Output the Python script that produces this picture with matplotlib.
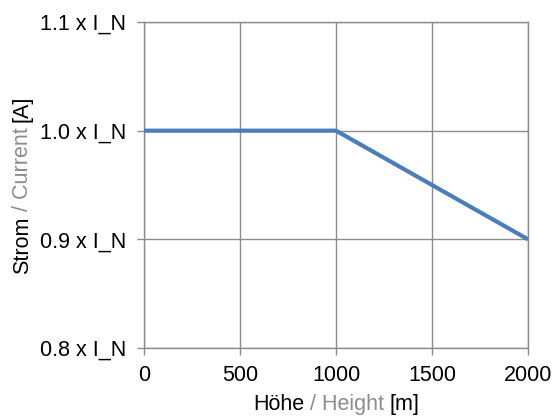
import matplotlib
matplotlib.use("Agg")

import matplotlib.pyplot as plt

# =====================================================
# Data
# =====================================================

height_m = [0, 1000, 2000]
current_rel = [1.0, 1.0, 0.9]

x_ticks = [0, 500, 1000, 1500, 2000]
y_ticks = [0.8, 0.9, 1.0, 1.1]
y_tick_labels = ["0.8 x I_N", "0.9 x I_N", "1.0 x I_N", "1.1 x I_N"]

x_label_parts = [("Höhe", "black"), ("/ Height", "#8c8c8c"), ("[m]", "black")]
y_label_parts = [("Strom", "black"), ("/ Current", "#8c8c8c"), ("[A]", "black")]

# =====================================================
# Figure
# =====================================================

plt.rcParams["font.family"] = ["Liberation Sans", "DejaVu Sans"]

grid_col = "#8c8c8c"
fs = 15.5

fig = plt.figure(figsize=(5.52, 4.17), dpi=100)
ax = fig.add_axes([144 / 552, 1 - 348 / 417, 384 / 552, 326 / 417])

ax.plot(height_m, current_rel, color="#4a7ebb", linewidth=3, solid_capstyle="butt", zorder=3)

ax.set_xlim(0, 2000)
ax.set_ylim(0.8, 1.1)
ax.set_xticks(x_ticks)
ax.set_yticks(y_ticks)
ax.set_yticklabels(y_tick_labels)

ax.grid(True, color=grid_col, linewidth=1.0)
for side in ["top", "right", "left", "bottom"]:
    ax.spines[side].set_color(grid_col)
    ax.spines[side].set_linewidth(1.0)

ax.tick_params(axis="both", direction="out", length=5, width=1.0, color=grid_col,
               labelsize=fs, labelcolor="black")
ax.tick_params(axis="y", pad=8)
ax.tick_params(axis="x", pad=7)

# =====================================================
# Multi-coloured axis labels
# =====================================================

gap = 4

# x label (horizontal), starts at left pixel 253
prev = fig.text(253 / 552, 1 - 415 / 417, x_label_parts[0][0], color=x_label_parts[0][1],
                fontsize=fs, ha="left", va="bottom")
for txt, col in x_label_parts[1:]:
    prev = ax.annotate(txt, xy=(1, 0), xycoords=prev, xytext=(gap, 0),
                       textcoords="offset points", color=col, fontsize=fs,
                       ha="left", va="bottom", annotation_clip=False)

# y label (rotated), starts at bottom pixel 273
prev = fig.text(12 / 552, 1 - 274 / 417, y_label_parts[0][0], color=y_label_parts[0][1],
                fontsize=fs, rotation=90, ha="left", va="bottom")
for txt, col in y_label_parts[1:]:
    prev = ax.annotate(txt, xy=(0, 1), xycoords=prev, xytext=(0, gap),
                       textcoords="offset points", color=col, fontsize=fs, rotation=90,
                       ha="left", va="bottom", annotation_clip=False)

plt.savefig("out.png", dpi=100)
